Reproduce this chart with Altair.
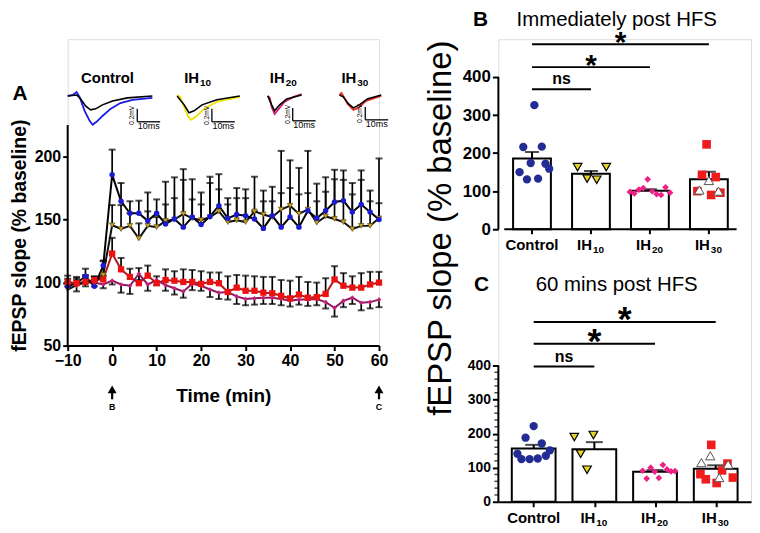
import altair as alt
import pandas as pd
import numpy as np

FONT = "Liberation Sans"

# ---------------- Panel A: time course (mean +/- SEM, % baseline) ----------------
times = list(range(-10, 61, 2))
ctrl_mean = [97, 99.5, 105, 97, 113.5, 185.5, 164.5, 155, 155, 149, 155, 146.5, 150.5, 144, 152, 146,
             152.5, 161, 151, 154, 153, 150.5, 143, 153, 144, 152, 144, 157, 151, 157, 164, 165, 156,
             162, 156, 150]
ctrl_sem = [6, 5, 6, 5, 4, 20, 14.5, 9.5, 10, 22.5, 11, 33.5, 33, 46, 30, 25.5, 31.5, 25, 16, 21, 21,
            6, 30, 23, 60.5, 45, 47, 47.5, 27.5, 26.5, 25.5, 24, 23, 27, 17, 48.5]
ih10_mean = [94.5, 98, 101, 100.5, 106, 145.5, 142.5, 145, 135, 145, 144, 149, 150, 154.5, 151, 149.5,
             152, 156.5, 148, 149.5, 148, 156.5, 154, 152, 158, 161, 154.5, 158, 147.5, 152.5, 150.5,
             148, 142.5, 145, 145, 151]
ih10_sem = [6, 4, 5, 4, 11, 16, 19, 10, 12, 11.5, 8, 13, 17, 27, 15, 12.5, 27, 17.5, 14, 17.5, 19,
            27.5, 10.5, 12.5, 13, 14, 15.5, 13, 17, 19.5, 31.5, 33.5, 27.5, 36.5, 19.5, 12]
ih20_mean = [100, 98, 100, 100, 98.5, 101.5, 98.5, 97.5, 107, 98.5, 102, 98, 95.5, 93, 99, 97.5, 94.5,
             92, 92.5, 89, 87, 87.5, 88, 88, 87, 85.5, 86.5, 86.5, 87, 84.5, 80, 85.5, 88, 84, 84.5, 86.5]
ih20_sem = [3, 5, 3, 3, 3, 3, 6.5, 6.5, 5, 5, 4, 4.5, 5, 5, 5, 4, 6, 5, 6, 6, 5, 5, 5, 5, 5, 4.5, 4, 5,
            5, 5, 7, 5, 5, 6, 5, 6]
ih30_mean = [100.5, 99.5, 100.5, 102, 102.5, 123, 110.5, 104.5, 99.5, 105.5, 99.5, 102, 101.5, 100.5,
             100.5, 99, 100.5, 99.5, 92.5, 96, 93.5, 93.5, 92, 91.5, 89.5, 87.5, 90.5, 88, 88.5, 91,
             102.5, 97.5, 96, 96, 98.5, 100]
ih30_sem = [5, 4, 4, 3, 3, 12.5, 9, 6.5, 12, 8, 5.5, 8.5, 7.5, 10, 9.5, 10, 7.5, 8.5, 12.5, 10, 12,
            11.5, 12.5, 13, 12.5, 14, 14, 12.5, 11.5, 12.5, 10.5, 10, 9, 11.5, 10, 8.5]
arrow_times = [0, 60]
arrow_labels = ["B", "C"]

# ---------------- Inset traces (ms, mV) ----------------
traces = {
    "ctrl_c": ([0, 2.2, 3.9, 5.2, 7.4, 9.6, 10.9, 12.6, 15.2, 18.7, 23, 28.3, 37],
               [0, .015, .06, -.015, -.23, -.385, -.446, -.4, -.31, -.2, -.11, -.06, -.03]),
    "ctrl_k": ([0, 3.9, 5.7, 7.8, 10, 12.2, 15.2, 19.6, 26.1, 37],
               [0, .015, -.046, -.154, -.215, -.2, -.138, -.077, -.03, 0]),
    "ih10_c": ([47.8, 49.1, 50.9, 52.6, 53.9, 56.1, 59.6, 65.2, 75.2],
               [.015, -.015, -.17, -.32, -.37, -.32, -.2, -.09, -.015]),
    "ih10_k": ([47.8, 50.9, 53, 55.2, 58.7, 65.2, 75.2],
               [0, -.138, -.26, -.23, -.138, -.06, 0]),
    "ih20_c": ([87.4, 88.3, 89.1, 90.4, 92.2, 94.8, 98.7, 102.2],
               [0, -.03, -.17, -.28, -.2, -.09, -.015, .03]),
    "ih20_k": ([87.4, 89.1, 90.4, 92.6, 95.7, 102.2],
               [0, -.138, -.23, -.138, -.046, .015]),
    "ih30_c": ([118.7, 119.6, 120.4, 122.2, 124.8, 127, 130.4, 137],
               [.015, .046, 0, -.12, -.215, -.185, -.077, 0]),
    "ih30_k": ([118.7, 120.4, 122.6, 124.8, 127.4, 130.9, 137],
               [.015, -.015, -.12, -.185, -.138, -.046, .015]),
}
trace_colors = {"ctrl_c": "#1a1ae6", "ih10_c": "#f0e000", "ih20_c": "#d6207a", "ih30_c": "#e8302a",
                "ctrl_k": "black", "ih10_k": "black", "ih20_k": "black", "ih30_k": "black"}
scalebar_ms = [30.4, 63.0, 98.3, 130.0]
scalebar_top = [-0.2, -0.2, -0.185, -0.17]
inset_names = ["Control", "IH", "IH", "IH"]
inset_subs = ["", "10", "20", "30"]
inset_label_ms = [17.4, 57.4, 94.8, 126.1]

# ---------------- Panels B & C: bars (mean, SEM) and individual slices ----------------
groups = ["Control", "IH", "IH", "IH"]
group_subs = ["", "10", "20", "30"]
B_means = [186, 146, 101, 131]
B_sems = [17, 7, 4, 20]
B_ctrl = [150, 216, 131, 174, 326, 133, 217, 172, 159]
B_ih10 = [163, 133, 130, 163]
B_ih20 = [98, 94, 104, 108, 131, 100, 92, 90, 110, 96]
B_ih30_sq = [100, 143, 223, 90, 137, 96]
B_ih30_tri = [103, 128, 100]
B_sig_to = [1, 2, 3]
B_sig_y = [368, 426, 486]
B_sig_txt = ["ns", "*", "*"]

C_means = [156, 154, 88, 97]
C_sems = [11, 21, 5, 10]
C_ctrl = [141, 125, 188, 125, 222, 127, 171, 135, 151]
C_ih10 = [190, 141, 94, 196]
C_ih20 = [91, 68, 100, 88, 70, 108, 95, 89, 90]
C_ih30_sq = [81, 66, 167, 55, 92, 112, 71]
C_ih30_tri = [115, 135, 71, 110]
C_sig_to = [1, 2, 3]
C_sig_y = [397, 464, 528]
C_sig_txt = ["ns", "*", "*"]


def ax(**kw):
    base = dict(grid=False, labelFont=FONT, titleFont=FONT, labelColor="black", titleColor="black",
                domainColor="black", tickColor="black", labelFontWeight="bold", titleFontWeight="bold",
                domainWidth=2, tickWidth=2, labelFlush=False, labelOverlap=False)
    base.update(kw)
    return alt.Axis(**base)


def txt(df, **kw):
    base = dict(font=FONT, color="black")
    base.update(kw)
    return alt.Chart(df).mark_text(**base)


# ======================= Left chart: panel A + insets =======================
L_W, L_H = 313, 308          # plot area spans from the top of panel B down to A's x axis
rows = []
for g, m, s in [("Control", ctrl_mean, ctrl_sem), ("IH10", ih10_mean, ih10_sem),
                ("IH20", ih20_mean, ih20_sem), ("IH30", ih30_mean, ih30_sem)]:
    for t, mv, sv in zip(times, m, s):
        rows.append(dict(g=g, t=t, v=mv, s=sv))
dfA = pd.DataFrame(rows)

XA_AXIS = ax(values=list(range(-10, 61, 10)), title="Time (min)", titleFontSize=19, titlePadding=18,
             labelFontSize=16, tickSize=5, labelPadding=2)
YA_AXIS = ax(values=[50, 100, 150, 200], title="fEPSP slope (% baseline)", titleFontSize=19.5,
             titlePadding=5, labelFontSize=16, tickSize=5, labelPadding=2, domain=False, titleY=197)


def XA(f="t"):
    return alt.X(f"{f}:Q", scale=alt.Scale(domain=[-10, 60], nice=False, zero=False), axis=XA_AXIS)


def YA(f="v"):
    return alt.Y(f"{f}:Q", scale=alt.Scale(domain=[50, 293.1], nice=False, zero=False), axis=YA_AXIS)


baseA = alt.Chart(dfA).transform_calculate(
    end="datum.g == 'IH20' ? datum.v - datum.s : datum.v + datum.s")
errA = baseA.mark_rule(color="black", strokeWidth=1.7).encode(x=XA(), y=YA(), y2="end:Q")
capA = baseA.mark_tick(color="black", orient="horizontal", size=7, thickness=2).encode(x=XA(), y=YA("end"))


def lineA(g, col):
    return alt.Chart(dfA).transform_filter(f"datum.g == '{g}'").mark_line(
        strokeWidth=2, color=col).encode(x=XA(), y=YA())


def ptsA(g, shape, fill, size, stroke=None, sw=0):
    return alt.Chart(dfA).transform_filter(f"datum.g == '{g}'").mark_point(
        shape=shape, filled=True, fill=fill, stroke=stroke or fill, strokeWidth=sw, size=size,
        opacity=1).encode(x=XA(), y=YA())


linesA = [lineA("IH30", "#b31818"), lineA("IH20", "#8c1a5e"), lineA("IH10", "#111111"),
          lineA("Control", "#000000")]
ptA = [ptsA("IH10", "triangle-down", "#c9a227", 30, "#4a3a00", 0.6),
       ptsA("Control", "circle", "#1a1ad2", 30),
       ptsA("IH20", "diamond", "#c8207a", 22),
       ptsA("IH30", "square", "#ee1111", 40)]

axisA = alt.Chart(pd.DataFrame({"a": [50], "b": [225]})).mark_rule(color="black", strokeWidth=2).encode(
    x=alt.value(0), y=YA("a"), y2="b:Q")
dfArr = pd.DataFrame({"t": arrow_times, "lab": arrow_labels})
shaft = alt.Chart(dfArr).mark_rule(color="black", strokeWidth=2.2).encode(
    x=XA(), y=alt.value(L_H + 44), y2=alt.value(L_H + 54))
head = alt.Chart(dfArr).mark_point(shape="triangle-up", filled=True, color="black", size=80,
                                   opacity=1).encode(x=XA(), y=alt.value(L_H + 44))
arrlab = txt(dfArr, fontSize=9, fontWeight="bold").encode(x=XA(), y=alt.value(L_H + 62), text="lab:N")
labA = txt(pd.DataFrame({"lab": ["A"]}), fontSize=21, fontWeight="bold").encode(
    x=alt.value(-48), y=alt.value(55), text="lab:N")

layerA = alt.layer(errA, capA, *linesA, *ptA, axisA, shaft, head, arrlab, labA)

# insets (own ms / mV scales)
trows = []
for k, (ms, mv) in traces.items():
    for a, b in zip(ms, mv):
        trows.append(dict(id=k, ms=a, mv=b))
dfT = pd.DataFrame(trows)
TX = alt.Scale(domain=[0, 136], nice=False, zero=False)
TY = alt.Scale(domain=[-3.862, 0.877], nice=False, zero=False)


def XT(f="ms"):
    return alt.X(f"{f}:Q", scale=TX, axis=None)


def YT(f="mv"):
    return alt.Y(f"{f}:Q", scale=TY, axis=None)


tr_layers = []
for k in ["ctrl_c", "ctrl_k", "ih10_c", "ih10_k", "ih20_c", "ih20_k", "ih30_c", "ih30_k"]:
    tr_layers.append(alt.Chart(dfT).transform_filter(f"datum.id == '{k}'").mark_line(
        strokeWidth=1.8 if k.endswith("_c") else 1.6, color=trace_colors[k]).encode(x=XT(), y=YT()))

sb = []
for x0, top in zip(scalebar_ms, scalebar_top):
    sb.append(dict(ms=x0, ms2=x0, mv=top, mv2=top - 0.2))
    sb.append(dict(ms=x0, ms2=x0 + 10, mv=top - 0.2, mv2=top - 0.2))
dfSB = pd.DataFrame(sb)
sbars = alt.Chart(dfSB).mark_rule(color="black", strokeWidth=1.3).encode(
    x=XT(), x2="ms2:Q", y=YT(), y2="mv2:Q")
dfSBL = pd.DataFrame({"ms": [x + 5 for x in scalebar_ms], "mv": [t - 0.27 for t in scalebar_top],
                      "ms_v": [x - 2.2 for x in scalebar_ms], "mv_v": [t - 0.1 for t in scalebar_top],
                      "t1": ["10ms"] * 4, "t2": ["0.2mV"] * 4})
sb_ms = txt(dfSBL, fontSize=9).encode(x=XT(), y=YT(), text="t1:N")
sb_mv = txt(dfSBL, fontSize=6.5, angle=270).encode(x=XT("ms_v"), y=YT("mv_v"), text="t2:N")
dfIL = pd.DataFrame({"ms": inset_label_ms, "mv": [0.277] * 4, "name": inset_names, "sub": inset_subs})
il_ctrl = txt(dfIL, fontSize=15, fontWeight="bold").transform_filter("datum.sub == ''").encode(
    x=XT(), y=YT(), text="name:N")
il_ih = txt(dfIL, fontSize=15, fontWeight="bold", align="right").transform_filter(
    "datum.sub != ''").encode(x=XT(), y=YT(), text="name:N")
il_sub = txt(dfIL, fontSize=10, fontWeight="bold", align="left", dx=1, dy=5).transform_filter(
    "datum.sub != ''").encode(x=XT(), y=YT(), text="sub:N")
layerT = alt.layer(*tr_layers, sbars, sb_ms, sb_mv, il_ctrl, il_ih, il_sub)

left = alt.layer(layerA, layerT).resolve_scale(x="independent", y="independent").properties(
    width=L_W, height=L_H)

# ======================= Right chart: panels B and C =======================
R_W, R_H = 254, 465


def bar_panel(xdom, ydom, zero_px, means, sems, sets, bar_w, cap_w, sig_to, sig_y, sig_txt,
              star_fs, ylab_fs, panel_letter, letter_x, panel_title, title_x, title_y,
              real_x_axis, minor=False, big_title=False, x_line=None):
    px_per = R_W / (xdom[1] - xdom[0])
    XAX = ax(values=[0, 1, 2, 3], labels=False, tickSize=5, title=None, orient="bottom") \
        if real_x_axis else None
    YAX = ax(values=[0, 100, 200, 300, 400], domain=False, tickSize=6, labelFontSize=ylab_fs,
             labelPadding=2, title=None, orient="left")

    def X(f):
        return alt.X(f"{f}:Q", scale=alt.Scale(domain=xdom, nice=False, zero=False), axis=XAX)

    def Y(f):
        return alt.Y(f"{f}:Q", scale=alt.Scale(domain=ydom, nice=False, zero=False), axis=YAX)

    dfb = pd.DataFrame({"idx": [0, 1, 2, 3], "v": means, "s": sems, "z": [0] * 4})
    bars = alt.Chart(dfb).mark_bar(size=bar_w, fill="white", stroke="black", strokeWidth=2).encode(
        x=X("idx"), y=Y("v"), y2="z:Q")
    base_e = alt.Chart(dfb).transform_calculate(top="datum.v + datum.s")
    err = base_e.mark_rule(color="black", strokeWidth=2).encode(x=X("idx"), y=Y("v"), y2="top:Q")
    cap = base_e.mark_tick(color="black", orient="horizontal", size=cap_w, thickness=2).encode(
        x=X("idx"), y=Y("top"))
    layers = [bars, err, cap]
    for idx, vals, shift, spread, shape, fill, stroke, sw, size in sets:
        n = len(vals)
        offs = np.linspace(-spread, spread, n) + shift
        dfp = pd.DataFrame({"x": idx + offs / px_per, "v": vals})
        layers.append(alt.Chart(dfp).mark_point(shape=shape, filled=True, fill=fill, stroke=stroke,
                                                strokeWidth=sw, size=size, opacity=1).encode(
            x=X("x"), y=Y("v")))
    dfs = pd.DataFrame({"x1": [0] * len(sig_to), "x2": sig_to, "y": sig_y, "txt": sig_txt,
                        "xm": [t / 2 for t in sig_to]})
    layers.append(alt.Chart(dfs).mark_rule(color="black", strokeWidth=2).encode(
        x=X("x1"), x2="x2:Q", y=Y("y")))
    layers.append(txt(dfs, fontSize=16, fontWeight="bold", baseline="alphabetic", dy=-5)
                  .transform_filter("datum.txt == 'ns'").encode(x=X("xm"), y=Y("y"), text="txt:N"))
    layers.append(txt(dfs, fontSize=star_fs, fontWeight="bold", baseline="alphabetic",
                      dy=star_fs * 0.25).transform_filter("datum.txt != 'ns'").encode(
        x=X("xm"), y=Y("y"), text="txt:N"))
    # y axis line only from 0 to 400
    layers.append(alt.Chart(pd.DataFrame({"a": [0], "b": [400]})).mark_rule(
        color="black", strokeWidth=2).encode(x=alt.value(0), y=Y("a"), y2="b:Q"))
    if x_line is not None:
        # x axis line and category ticks drawn through the panel's own scales
        layers.append(alt.Chart(pd.DataFrame({"x1": [x_line[0]], "x2": [x_line[1]], "z": [0]})).mark_rule(
            color="black", strokeWidth=2).encode(x=X("x1"), x2="x2:Q", y=Y("z")))
        layers.append(alt.Chart(dfb).mark_rule(color="black", strokeWidth=2).encode(
            x=X("idx"), y=Y("z"), y2=alt.value(zero_px + 5)))
    if minor:
        mv = [v for v in range(20, 400, 20) if v % 100]
        layers.append(alt.Chart(pd.DataFrame({"m": mv})).mark_tick(
            color="black", orient="horizontal", size=4, thickness=1.5).encode(x=alt.value(-2), y=Y("m")))
    dfc = pd.DataFrame({"idx": [0, 1, 2, 3], "name": groups, "sub": group_subs})
    ly = zero_px + 16
    layers.append(txt(dfc, fontSize=15, fontWeight="bold").transform_filter("datum.sub == ''").encode(
        x=X("idx"), y=alt.value(ly), text="name:N"))
    layers.append(txt(dfc, fontSize=15, fontWeight="bold", align="right", dx=1).transform_filter(
        "datum.sub != ''").encode(x=X("idx"), y=alt.value(ly), text="name:N"))
    layers.append(txt(dfc, fontSize=10, fontWeight="bold", align="left", dx=2, dy=5).transform_filter(
        "datum.sub != ''").encode(x=X("idx"), y=alt.value(ly), text="sub:N"))
    layers.append(txt(pd.DataFrame({"t": [panel_letter]}), fontSize=21, fontWeight="bold").encode(
        x=alt.value(letter_x), y=alt.value(title_y), text="t:N"))
    layers.append(txt(pd.DataFrame({"t": [panel_title]}), fontSize=20.5).encode(
        x=alt.value(title_x), y=alt.value(title_y), text="t:N"))
    if big_title:
        layers.append(txt(pd.DataFrame({"t": ["fEPSP slope (% baseline)"]}), fontSize=33, angle=270,
                          baseline="middle").encode(x=alt.value(-58), y=alt.value(190), text="t:N"))
    return alt.layer(*layers)


setsB = [(0, B_ctrl, 2.5, 15.5, "circle", "#232c94", "#232c94", 0, 70),
         (1, B_ih10, 1, 15, "triangle-down", "#e6d42a", "black", 1.2, 75),
         (2, B_ih20, 0, 21, "diamond", "#ee1f86", "#ee1f86", 0, 45),
         (3, B_ih30_sq, 0, 12, "square", "#ee1c1c", "#ee1c1c", 0, 75),
         (3, B_ih30_tri, 0, 10, "triangle-up", "white", "#555555", 1, 90)]
setsC = [(0, C_ctrl, 0, 17, "circle", "#232c94", "#232c94", 0, 70),
         (1, C_ih10, -11, 10, "triangle-down", "#e6d42a", "black", 1.2, 75),
         (2, C_ih20, 4, 17, "diamond", "#ee1f86", "#ee1f86", 0, 45),
         (3, C_ih30_sq, 1, 17, "square", "#ee1c1c", "#ee1c1c", 0, 75),
         (3, C_ih30_tri, -1, 14, "triangle-up", "white", "#555555", 1, 90)]

panelB = bar_panel([-0.486, 3.630], [-716.3, 499.3], 191, B_means, B_sems, setsB, 38, 14,
                   B_sig_to, B_sig_y, B_sig_txt, 30, 17, "B", -18, "Immediately post HFS", 119, -19,
                   real_x_axis=False, x_line=(-0.47, 3.47))
panelC = bar_panel([-0.5, 3.5], [0, 1357.7], R_H, C_means, C_sems, setsC, 44, 17,
                   C_sig_to, C_sig_y, C_sig_txt, 36, 14, "C", -17, "60 mins post HFS", 119, 247,
                   real_x_axis=True, minor=True, big_title=True)

right = alt.layer(panelB, panelC).resolve_scale(x="independent", y="independent").properties(
    width=R_W, height=R_H)

chart = alt.hconcat(left, right, spacing=120, bounds="flush").properties(
    padding={"left": 0, "top": -1, "right": 0, "bottom": 0}
).configure_view(stroke=None).configure(font=FONT)

chart.save("out.html", embed_options={"renderer": "svg", "actions": False})
